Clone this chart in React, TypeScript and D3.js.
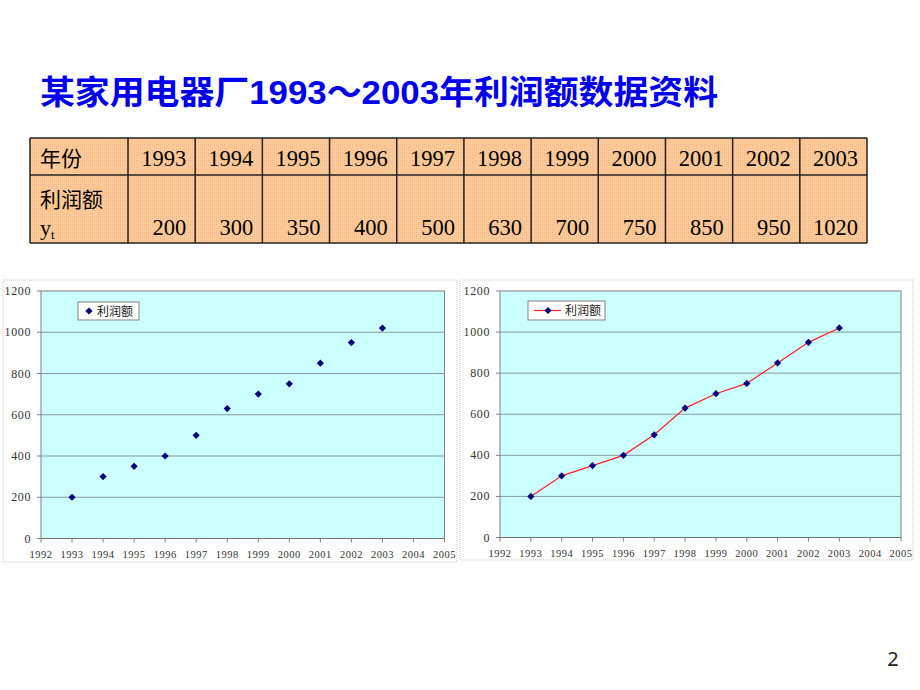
import React from "react";
import * as d3 from "d3";

const titleText = "某家用电器厂1993～2003年利润额数据资料";
const years = [1993, 1994, 1995, 1996, 1997, 1998, 1999, 2000, 2001, 2002, 2003];
const profits = [200, 300, 350, 400, 500, 630, 700, 750, 850, 950, 1020];
const xTickYears = [1992, 1993, 1994, 1995, 1996, 1997, 1998, 1999, 2000, 2001, 2002, 2003, 2004, 2005];
const yTickValues = [0, 200, 400, 600, 800, 1000, 1200];
const seriesName = "利润额";
const rowHeaders = ["年份", "利润额"];
const pageNumber = "2";

const SERIF = "'Liberation Serif', 'DejaVu Serif', serif";
const CJK = "'Noto Sans CJK SC', sans-serif";

type ChartProps = {
  frame: [number, number, number, number];
  plot: [number, number, number, number];
  withLine: boolean;
  legend: [number, number, number, number];
};

function Chart({ frame, plot, withLine, legend }: ChartProps) {
  const [fx0, fy0, fx1, fy1] = frame;
  const [px0, py0, px1, py1] = plot;
  const x = d3.scaleLinear().domain([1992, 2005]).range([px0, px1]);
  const y = d3.scaleLinear().domain([0, 1200]).range([py1, py0]);
  const diamond = d3.symbol(d3.symbolSquare, 26)()!;
  const line = d3
    .line<number>()
    .x((_, i) => x(years[i]))
    .y((d) => y(d))(profits)!;
  const [lx0, ly0, lx1, ly1] = legend;
  const lcy = (ly0 + ly1) / 2;
  return (
    <g>
      <rect x={fx0} y={fy0} width={fx1 - fx0} height={fy1 - fy0} fill="#fff" stroke="#c8c8c8" strokeDasharray="1,1" />
      <rect x={px0} y={py0} width={px1 - px0} height={py1 - py0} fill="#ccffff" />
      {yTickValues.map((v) => (
        <g key={v}>
          {v > 0 && v < 1200 && (
            <line x1={px0} x2={px1} y1={y(v)} y2={y(v)} stroke="#8a9a9a" strokeWidth={1} />
          )}
          <line x1={px0 - 4} x2={px0} y1={y(v)} y2={y(v)} stroke="#808080" />
          <text x={px0 - 10} y={y(v) + 4} textAnchor="end" fontFamily={SERIF} fontSize={12} fill="#333" letterSpacing={0.6}>
            {v}
          </text>
        </g>
      ))}
      <rect x={px0} y={py0} width={px1 - px0} height={py1 - py0} fill="none" stroke="#808080" strokeWidth={1} />
      <line x1={px0} x2={px1} y1={py1} y2={py1} stroke="#707070" strokeWidth={1} />
      {xTickYears.map((yr) => (
        <g key={yr}>
          <line x1={x(yr)} x2={x(yr)} y1={py1} y2={py1 + 4} stroke="#808080" />
          <text x={x(yr)} y={py1 + 19} textAnchor="middle" fontFamily={SERIF} fontSize={10.5} fill="#333" letterSpacing={0.5}>
            {yr}
          </text>
        </g>
      ))}
      {withLine && <path d={line} fill="none" stroke="#ff2020" strokeWidth={1.2} />}
      {profits.map((v, i) => (
        <path key={i} d={diamond} transform={`translate(${x(years[i])},${y(v)}) rotate(45)`} fill="#000080" />
      ))}
      <rect x={lx0} y={ly0} width={lx1 - lx0} height={ly1 - ly0} fill="#fff" stroke="#808080" strokeWidth={1} />
      {withLine ? (
        <g>
          <line x1={lx0 + 6} x2={lx0 + 33} y1={lcy} y2={lcy} stroke="#ff2020" strokeWidth={1.2} />
          <path d={diamond} transform={`translate(${lx0 + 20},${lcy}) rotate(45)`} fill="#000080" />
          <text x={lx0 + 37} y={lcy + 4.5} fontFamily={CJK} fontSize={12} fill="#222">{seriesName}</text>
        </g>
      ) : (
        <g>
          <path d={diamond} transform={`translate(${lx0 + 11},${lcy}) rotate(45)`} fill="#000080" />
          <text x={lx0 + 19} y={lcy + 4.5} fontFamily={CJK} fontSize={12} fill="#222">{seriesName}</text>
        </g>
      )}
    </g>
  );
}

function DataTable() {
  const left = 30;
  const firstW = 98;
  const right = 867;
  const top = 138;
  const mid = 175;
  const bottom = 243;
  const colX = d3.scaleLinear().domain([0, years.length]).range([left + firstW, right]);
  return (
    <g>
      <defs>
        <pattern id="dots" width="2" height="2" patternUnits="userSpaceOnUse">
          <rect width="2" height="2" fill="#ffcc99" />
          <rect width="1" height="1" fill="#f2b88a" />
        </pattern>
      </defs>
      <rect x={left} y={top} width={right - left} height={bottom - top} fill="url(#dots)" />
      <line x1={left} x2={right} y1={top} y2={top} stroke="#222" strokeWidth={1.5} />
      <line x1={left} x2={right} y1={mid} y2={mid} stroke="#222" strokeWidth={1.5} />
      <line x1={left} x2={right} y1={bottom} y2={bottom} stroke="#222" strokeWidth={1.5} />
      <line x1={left} x2={left} y1={top} y2={bottom} stroke="#222" strokeWidth={1.5} />
      {years.map((_, i) => (
        <line key={i} x1={colX(i + 1)} x2={colX(i + 1)} y1={top} y2={bottom} stroke="#222" strokeWidth={1.5} />
      ))}
      <line x1={colX(0)} x2={colX(0)} y1={top} y2={bottom} stroke="#222" strokeWidth={1.5} />
      <text x={left + 10} y={166} fontFamily={CJK} fontSize={21} fill="#000">{rowHeaders[0]}</text>
      <text x={left + 10} y={207} fontFamily={CJK} fontSize={21} fill="#000">{rowHeaders[1]}</text>
      <text x={left + 10} y={235} fontFamily={SERIF} fontSize={22} fill="#000">
        y<tspan fontSize={13} dy={4}>t</tspan>
      </text>
      {years.map((yr, i) => (
        <text key={yr} x={colX(i + 1) - 9} y={166} textAnchor="end" fontFamily={SERIF} fontSize={22.5} fill="#000">
          {yr}
        </text>
      ))}
      {profits.map((v, i) => (
        <text key={i} x={colX(i + 1) - 9} y={235} textAnchor="end" fontFamily={SERIF} fontSize={22.5} fill="#000">
          {v}
        </text>
      ))}
    </g>
  );
}

export default function App() {
  return (
    <svg width={920} height={690} style={{ position: "absolute", left: 0, top: 0 }}>
      <rect width={920} height={690} fill="#fff" />
      <text
        x={40}
        y={104}
        fontFamily="'Liberation Sans', 'Noto Sans CJK SC', sans-serif"
        fontWeight="bold"
        fontSize={33}
        fill="#0000ee"
        textLength={678}
        lengthAdjust="spacingAndGlyphs"
      >
        {titleText}
      </text>
      <DataTable />
      <Chart frame={[3, 280, 457, 562]} plot={[41, 291, 444.5, 538.5]} withLine={false} legend={[78, 302, 139, 320]} />
      <Chart frame={[460, 280, 913, 560]} plot={[500, 291, 901, 537.5]} withLine={true} legend={[528, 301, 605, 320]} />
      <text x={893} y={666} textAnchor="middle" fontFamily="'Noto Sans', sans-serif" fontSize={20} fill="#222">
        {pageNumber}
      </text>
    </svg>
  );
}
